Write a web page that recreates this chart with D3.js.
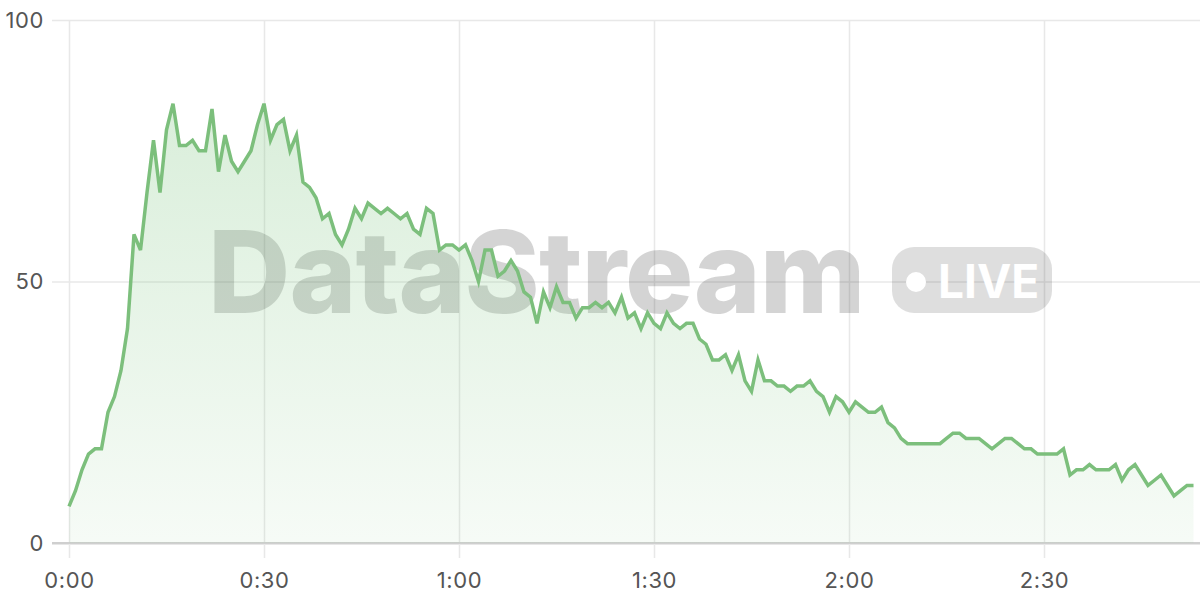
<!DOCTYPE html>
<html>
<head>
<meta charset="utf-8">
<script src="https://cdn.jsdelivr.net/npm/d3@7"></script>
<style>
  html, body { margin: 0; padding: 0; background: #fff; }
  .js-vis { width: 1200px; height: 600px; }
  .tick text { font-family: Inter, "Noto Sans", sans-serif; font-size: 22px; letter-spacing: 0.6px; fill: #555; }
</style>
</head>
<body>
<div class="js-vis"></div>
<script>
// one reading per second, 0:00 .. 2:53
const values = [
  7, 10, 14, 17, 18, 18, 25, 28, 33, 41,
  59, 56, 67, 77, 67, 79, 84, 76, 76, 77,
  75, 75, 83, 71, 78, 73, 71, 73, 75, 80,
  84, 77, 80, 81, 75, 78, 69, 68, 66, 62,
  63, 59, 57, 60, 64, 62, 65, 64, 63, 64,
  63, 62, 63, 60, 59, 64, 63, 56, 57, 57,
  56, 57, 54, 50, 56, 56, 51, 52, 54, 52,
  48, 47, 42, 48, 45, 49, 46, 46, 43, 45,
  45, 46, 45, 46, 44, 47, 43, 44, 41, 44,
  42, 41, 44, 42, 41, 42, 42, 39, 38, 35,
  35, 36, 33, 36, 31, 29, 35, 31, 31, 30,
  30, 29, 30, 30, 31, 29, 28, 25, 28, 27,
  25, 27, 26, 25, 25, 26, 23, 22, 20, 19,
  19, 19, 19, 19, 19, 20, 21, 21, 20, 20,
  20, 19, 18, 19, 20, 20, 19, 18, 18, 17,
  17, 17, 17, 18, 13, 14, 14, 15, 14, 14,
  14, 15, 12, 14, 15, 13, 11, 12, 13, 11,
  9, 10, 11, 11
]
const xTicks = [0, 30, 60, 90, 120, 150]
const yTicks = [0, 50, 100]
const brand = "DataStream",
    badge = "LIVE"

const el = d3.select(".js-vis"),
    ewidth = 1200,
    eheight = 600

const margin = { top: 20, right: 0, bottom: 57, left: 69 },
    width = ewidth - margin.left - margin.right,
    height = eheight - margin.top - margin.bottom

const data = values.map((v, i) => [i, v])

const x = d3.scaleLinear()
  .domain([0, 174])
  .range([0, width])

const y = d3.scaleLinear()
  .domain([0, 100])
  .range([height, 0])

const fmt = s => Math.floor(s / 60) + ":" + d3.format("02")(s % 60)

const svg = el.append("svg")
  .attr("width", ewidth)
  .attr("height", eheight)

const defs = svg.append("defs")
const grad = defs.append("linearGradient")
  .attr("id", "fade")
  .attr("gradientUnits", "userSpaceOnUse")
  .attr("x1", 0).attr("x2", 0)
  .attr("y1", y(85)).attr("y2", y(0))
grad.append("stop").attr("offset", 0).attr("stop-color", "#81c784").attr("stop-opacity", 0.3)
grad.append("stop").attr("offset", 1).attr("stop-color", "#81c784").attr("stop-opacity", 0.07)

const vis = svg.append("g")
  .attr("transform", "translate(" + margin.left + "," + margin.top + ")")

// grid via axes
const yg = vis.append("g")
  .call(d3.axisLeft(y).tickValues(yTicks).tickSize(17).tickPadding(8))
yg.select(".domain").remove()
yg.selectAll(".tick line")
  .attr("x1", width)
  .attr("stroke", d => d === 0 ? "#cfcfcf" : "#e8e8e8")
  .attr("stroke-width", d => d === 0 ? 2 : 1.5)

const xg = vis.append("g")
  .attr("transform", "translate(0," + height + ")")
  .call(d3.axisBottom(x).tickValues(xTicks).tickFormat(fmt).tickSize(15).tickPadding(14))
xg.select(".domain").remove()
xg.selectAll(".tick line")
  .attr("y1", -height)
  .attr("stroke", "#e8e8e8")
  .attr("stroke-width", 1.5)
vis.append("line")
  .attr("x1", -17).attr("x2", width)
  .attr("y1", y(0)).attr("y2", y(0))
  .attr("stroke", "#cfcfcf")
  .attr("stroke-width", 2)

// watermark
const wm = vis.append("g")
  .attr("transform", "translate(" + (208 - margin.left) + "," + (313 - margin.top) + ")")
wm.append("text")
  .attr("font-family", "Inter, 'Noto Sans', sans-serif")
  .attr("font-weight", 800)
  .attr("font-size", 114)
  .attr("letter-spacing", -1)
  .attr("fill", "rgba(0,0,0,0.17)")
  .text(brand)
const pill = wm.append("g")
  .attr("transform", "translate(" + (892 - 208) + ",-66)")
pill.append("rect")
  .attr("width", 160).attr("height", 66).attr("rx", 22)
  .attr("fill", "rgba(0,0,0,0.13)")
pill.append("circle")
  .attr("cx", 24).attr("cy", 35).attr("r", 10)
  .attr("fill", "#fff")
pill.append("text")
  .attr("x", 46).attr("y", 51)
  .attr("font-family", "Inter, 'Noto Sans', sans-serif")
  .attr("font-weight", 700)
  .attr("font-size", 46)
  .attr("fill", "#fff")
  .text(badge)

// series
vis.append("path")
  .datum(data)
  .attr("fill", "url(#fade)")
  .attr("d", d3.area().x(d => x(d[0])).y0(y(0)).y1(d => y(d[1])))

vis.append("path")
  .datum(data)
  .attr("fill", "none")
  .attr("stroke", "#7cbf7c")
  .attr("stroke-width", 3.5)
  .attr("stroke-linejoin", "miter")
  .attr("d", d3.line().x(d => x(d[0])).y(d => y(d[1])))
</script>
</body>
</html>
